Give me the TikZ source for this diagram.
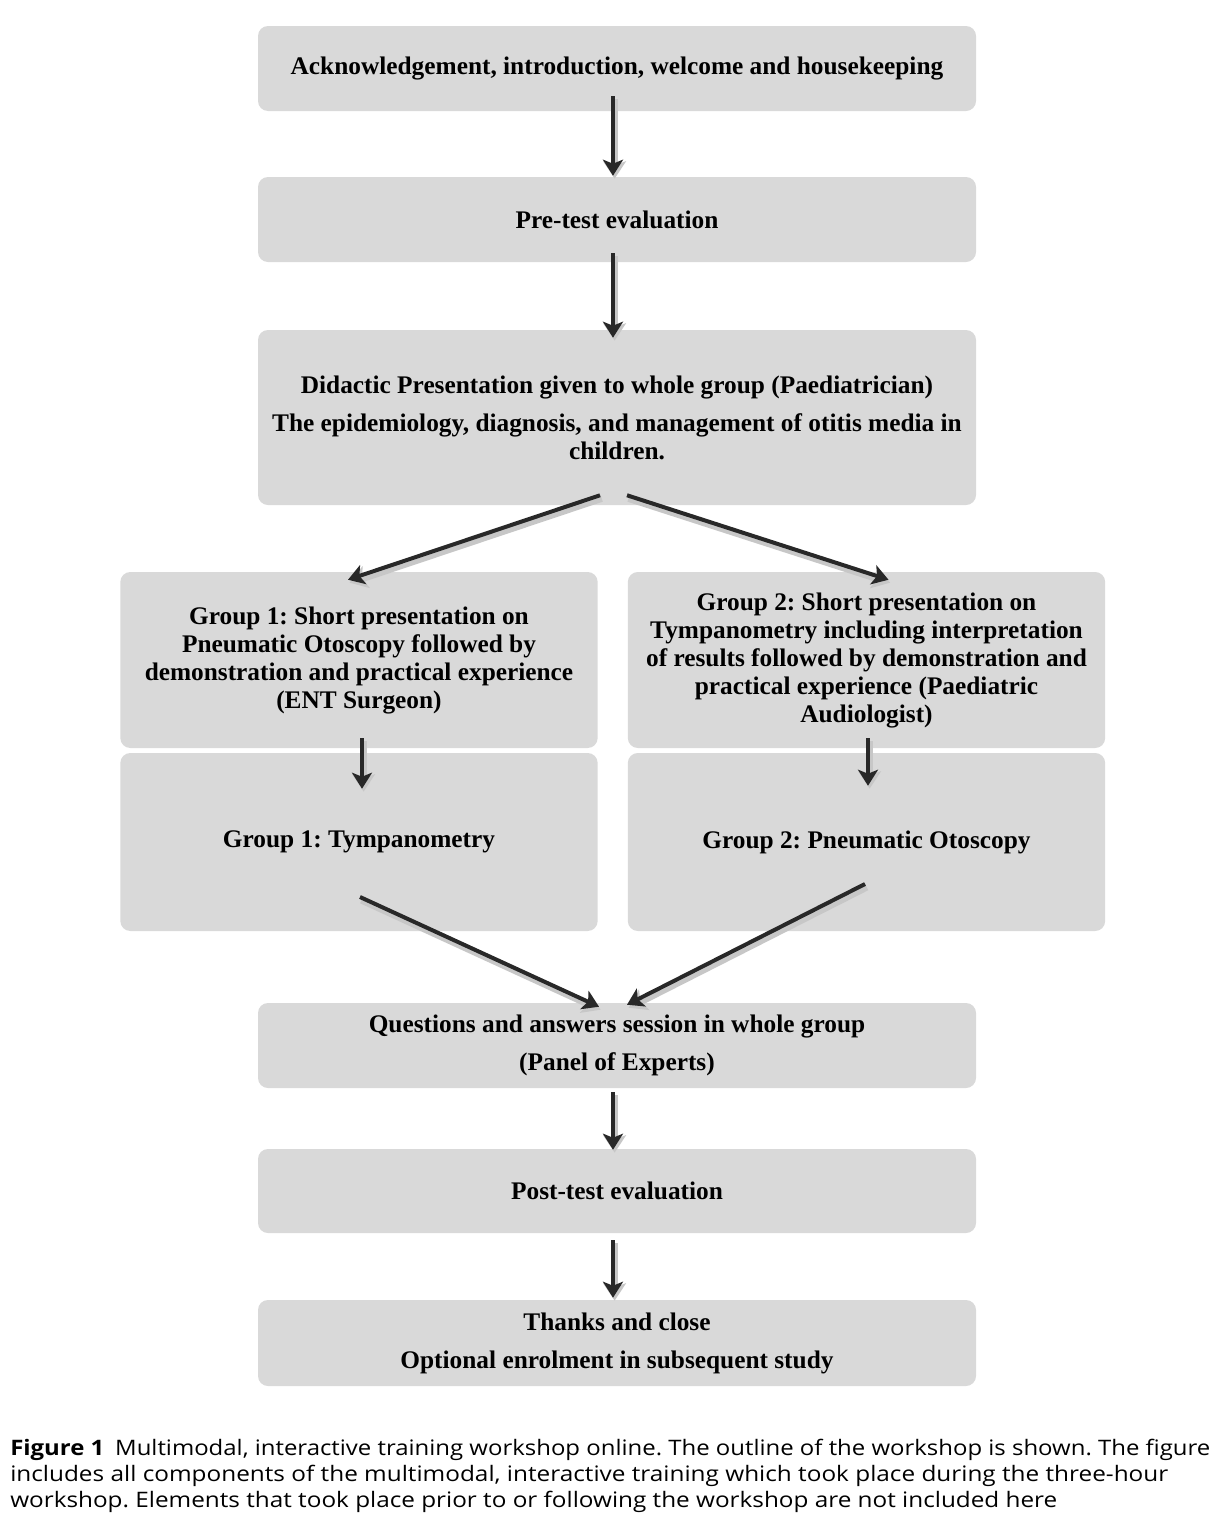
\documentclass[tikz,border=0pt]{standalone}
\usepackage{fontspec}
\usepackage{graphicx}
\setmainfont{Liberation Serif}
\newfontfamily\capfont{Open Sans}
\usetikzlibrary{arrows.meta,calc}
\frenchspacing
\definecolor{boxgray}{RGB}{217,217,217}
\definecolor{arrowgray}{RGB}{40,40,40}
\tikzset{
  box/.style={fill=boxgray, rounded corners=7.5pt, inner sep=0pt, align=center,
    font=\bfseries\fontsize{19}{21}\selectfont},
  wide/.style={box, minimum width=538.5pt},
  half/.style={box, minimum width=358pt},
  arr/.style={draw=arrowgray, line width=3pt,
    -{Stealth[length=12pt,width=15pt,inset=3pt]},
    preaction={draw=black!22, line width=5.5pt, -{Stealth[length=13pt,width=17pt,inset=3pt]},
      transform canvas={shift={(1.2pt,-2.2pt)}}}},
  captext/.style={anchor=base west, inner sep=0pt, font=\capfont\fontsize{16}{18}\selectfont}
}
\begin{document}
\begin{tikzpicture}[x=0.75pt,y=-0.75pt]
\useasboundingbox[fill=white] (0,0) rectangle (1219,1528);

\node[wide, minimum height=63.75pt] (ack) at (617,68.5) {Acknowledgement, introduction, welcome and housekeeping};
\node[wide, minimum height=63.75pt] (pre) at (617,219.5) {Pre-test evaluation};
\node[wide, minimum height=131.25pt] (did) at (617,417.5) {Didactic Presentation given to whole group (Paediatrician)\\[7.5pt]
The epidemiology, diagnosis, and management of otitis media in\\ children.};
\node[half, minimum height=132pt] (g1a) at (359,660) {Group 1: Short presentation on\\ Pneumatic Otoscopy followed by\\ demonstration and practical experience\\ (ENT Surgeon)};
\node[half, minimum height=132pt] (g2a) at (866.5,660) {Group 2: Short presentation on\\ Tympanometry including interpretation\\ of results followed by demonstration and\\ practical experience (Paediatric\\ Audiologist)};
\node[half, minimum height=133.5pt] (g1b) at (359,842) {Group 1: Tympanometry};
\node[half, minimum height=133.5pt] (g2b) at (866.5,842) {Group 2: Pneumatic Otoscopy};
\node[wide, minimum height=63.75pt] (qa) at (617,1045.5) {Questions and answers session in whole group\\[7.5pt] (Panel of Experts)};
\node[wide, minimum height=63pt] (post) at (617,1191) {Post-test evaluation};
\node[wide, minimum height=64.5pt] (thx) at (617,1343) {Thanks and close\\[7.5pt] Optional enrolment in subsequent study};

% connector end points
\coordinate (a1s) at ($(ack.south)+(-4,-15)$);
\coordinate (a1e) at ($(pre.north)+(-4,-1)$);
\coordinate (a2s) at ($(pre.south)+(-4,-9)$);
\coordinate (a2e) at ($(did.north)+(-4,8)$);
\coordinate (a3s) at ($(did.south)+(-17,-10)$);
\coordinate (a3e) at ($(g1a.north)+(-11,8)$);
\coordinate (a4s) at ($(did.south)+(10,-10)$);
\coordinate (a4e) at ($(g2a.north)+(22,8)$);
\coordinate (a5s) at ($(g1a.south)+(3,-10)$);
\coordinate (a5e) at ($(g1b.north)+(3,36)$);
\coordinate (a6s) at ($(g2a.south)+(1.5,-10)$);
\coordinate (a6e) at ($(g2b.north)+(1.5,33)$);
\coordinate (a7s) at ($(g1b.center)+(1,55)$);
\coordinate (a7e) at ($(qa.north)+(-18,4)$);
\coordinate (a8s) at ($(g2b.center)+(-1.5,42)$);
\coordinate (a8e) at ($(qa.north)+(10,2)$);
\coordinate (a9s) at ($(qa.south)+(-4,4)$);
\coordinate (a9e) at ($(post.north)+(-4,1)$);
\coordinate (a10s) at ($(post.south)+(-4,7)$);
\coordinate (a10e) at ($(thx.north)+(-4,-2)$);

\draw[arr] (a1s) -- (a1e);
\draw[arr] (a2s) -- (a2e);
\draw[arr] (a3s) -- (a3e);
\draw[arr] (a4s) -- (a4e);
\draw[arr] (a5s) -- (a5e);
\draw[arr] (a6s) -- (a6e);
\draw[arr] (a7s) -- (a7e);
\draw[arr] (a8s) -- (a8e);
\draw[arr] (a9s) -- (a9e);
\draw[arr] (a10s) -- (a10e);

\node[captext] (c1) at (10,1455) {\resizebox{900pt}{\height}{\textbf{Figure 1}\hspace{0.45em}Multimodal, interactive training workshop online. The outline of the workshop is shown. The figure}};
\node[captext] (c2) at (10,1481) {\resizebox{868.5pt}{\height}{includes all components of the multimodal, interactive training which took place during the three-hour}};
\node[captext] (c3) at (10,1507) {\resizebox{785.25pt}{\height}{workshop. Elements that took place prior to or following the workshop are not included here}};
\end{tikzpicture}
\end{document}
